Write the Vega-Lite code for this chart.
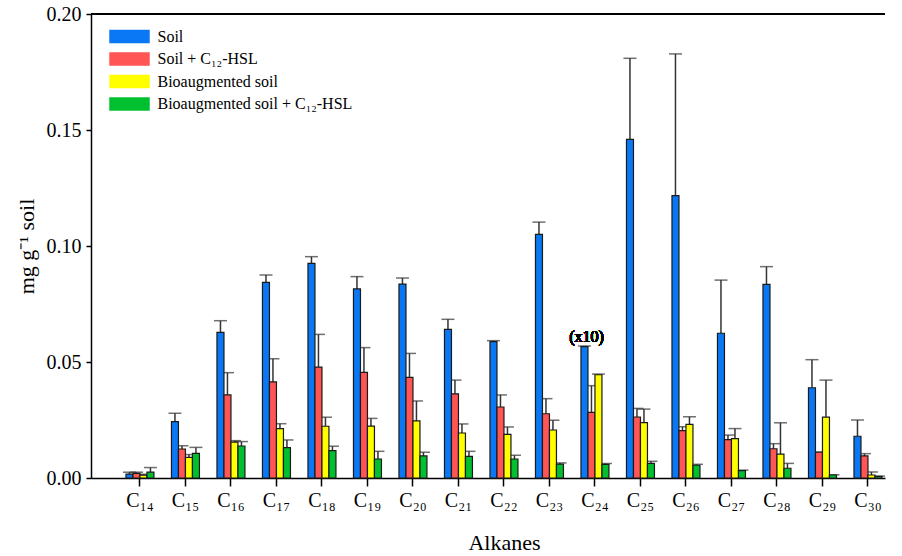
{
  "$schema": "https://vega.github.io/schema/vega-lite/v6.json",
  "width": 794,
  "height": 464,
  "autosize": "none",
  "padding": {"left": 91, "top": 14, "right": 17, "bottom": 78},
  "background": "white",
  "config": {
    "view": {"stroke": null},
    "font": "Liberation Serif",
    "text": {"font": "Liberation Serif", "fontWeight": "normal"},
    "axis": {
      "labelFont": "Liberation Serif",
      "titleFont": "Liberation Serif",
      "labelColor": "black",
      "titleColor": "black",
      "domainColor": "black",
      "tickColor": "black",
      "domainWidth": 1.5,
      "tickWidth": 1.5,
      "grid": false,
      "titleFontWeight": "normal",
      "labelFontWeight": "normal"
    },
    "legend": {
      "labelFont": "Liberation Serif",
      "labelFontSize": 16,
      "labelFontWeight": "normal",
      "labelColor": "black"
    }
  },
  "data": {
    "values": [
      {"alkane": "C₁₄", "series": "Soil", "value": 0.0017, "upper": 0.0025},
      {"alkane": "C₁₄", "series": "Soil + C₁₂-HSL", "value": 0.0020, "upper": 0.0025},
      {"alkane": "C₁₄", "series": "Bioaugmented soil", "value": 0.0012, "upper": 0.0016},
      {"alkane": "C₁₄", "series": "Bioaugmented soil + C₁₂-HSL", "value": 0.0025, "upper": 0.0045},
      {"alkane": "C₁₅", "series": "Soil", "value": 0.0243, "upper": 0.0279},
      {"alkane": "C₁₅", "series": "Soil + C₁₂-HSL", "value": 0.0125, "upper": 0.0139},
      {"alkane": "C₁₅", "series": "Bioaugmented soil", "value": 0.0089, "upper": 0.0101},
      {"alkane": "C₁₅", "series": "Bioaugmented soil + C₁₂-HSL", "value": 0.0106, "upper": 0.0132},
      {"alkane": "C₁₆", "series": "Soil", "value": 0.0628, "upper": 0.0678},
      {"alkane": "C₁₆", "series": "Soil + C₁₂-HSL", "value": 0.0358, "upper": 0.0454},
      {"alkane": "C₁₆", "series": "Bioaugmented soil", "value": 0.0155, "upper": 0.0161},
      {"alkane": "C₁₆", "series": "Bioaugmented soil + C₁₂-HSL", "value": 0.0138, "upper": 0.0157},
      {"alkane": "C₁₇", "series": "Soil", "value": 0.0843, "upper": 0.0875},
      {"alkane": "C₁₇", "series": "Soil + C₁₂-HSL", "value": 0.0414, "upper": 0.0514},
      {"alkane": "C₁₇", "series": "Bioaugmented soil", "value": 0.0213, "upper": 0.0234},
      {"alkane": "C₁₇", "series": "Bioaugmented soil + C₁₂-HSL", "value": 0.0131, "upper": 0.0164},
      {"alkane": "C₁₈", "series": "Soil", "value": 0.0925, "upper": 0.0954},
      {"alkane": "C₁₈", "series": "Soil + C₁₂-HSL", "value": 0.0478, "upper": 0.0619},
      {"alkane": "C₁₈", "series": "Bioaugmented soil", "value": 0.0223, "upper": 0.0262},
      {"alkane": "C₁₈", "series": "Bioaugmented soil + C₁₂-HSL", "value": 0.0118, "upper": 0.0137},
      {"alkane": "C₁₉", "series": "Soil", "value": 0.0815, "upper": 0.0868},
      {"alkane": "C₁₉", "series": "Soil + C₁₂-HSL", "value": 0.0455, "upper": 0.0562},
      {"alkane": "C₁₉", "series": "Bioaugmented soil", "value": 0.0224, "upper": 0.0257},
      {"alkane": "C₁₉", "series": "Bioaugmented soil + C₁₂-HSL", "value": 0.0082, "upper": 0.0115},
      {"alkane": "C₂₀", "series": "Soil", "value": 0.0836, "upper": 0.0862},
      {"alkane": "C₂₀", "series": "Soil + C₁₂-HSL", "value": 0.0434, "upper": 0.0537},
      {"alkane": "C₂₀", "series": "Bioaugmented soil", "value": 0.0246, "upper": 0.0332},
      {"alkane": "C₂₀", "series": "Bioaugmented soil + C₁₂-HSL", "value": 0.0095, "upper": 0.0111},
      {"alkane": "C₂₁", "series": "Soil", "value": 0.0641, "upper": 0.0684},
      {"alkane": "C₂₁", "series": "Soil + C₁₂-HSL", "value": 0.0363, "upper": 0.0422},
      {"alkane": "C₂₁", "series": "Bioaugmented soil", "value": 0.0194, "upper": 0.0233},
      {"alkane": "C₂₁", "series": "Bioaugmented soil + C₁₂-HSL", "value": 0.0093, "upper": 0.0115},
      {"alkane": "C₂₂", "series": "Soil", "value": 0.0588, "upper": 0.0592},
      {"alkane": "C₂₂", "series": "Soil + C₁₂-HSL", "value": 0.0306, "upper": 0.0358},
      {"alkane": "C₂₂", "series": "Bioaugmented soil", "value": 0.0188, "upper": 0.0220},
      {"alkane": "C₂₂", "series": "Bioaugmented soil + C₁₂-HSL", "value": 0.0082, "upper": 0.0098},
      {"alkane": "C₂₃", "series": "Soil", "value": 0.1050, "upper": 0.1103},
      {"alkane": "C₂₃", "series": "Soil + C₁₂-HSL", "value": 0.0277, "upper": 0.0342},
      {"alkane": "C₂₃", "series": "Bioaugmented soil", "value": 0.0207, "upper": 0.0249},
      {"alkane": "C₂₃", "series": "Bioaugmented soil + C₁₂-HSL", "value": 0.0060, "upper": 0.0065},
      {"alkane": "C₂₄", "series": "Soil", "value": 0.0566, "upper": 0.0569},
      {"alkane": "C₂₄", "series": "Soil + C₁₂-HSL", "value": 0.0283, "upper": 0.0398},
      {"alkane": "C₂₄", "series": "Bioaugmented soil", "value": 0.0445, "upper": 0.0448},
      {"alkane": "C₂₄", "series": "Bioaugmented soil + C₁₂-HSL", "value": 0.0059, "upper": 0.0063},
      {"alkane": "C₂₅", "series": "Soil", "value": 0.1460, "upper": 0.1809},
      {"alkane": "C₂₅", "series": "Soil + C₁₂-HSL", "value": 0.0263, "upper": 0.0300},
      {"alkane": "C₂₅", "series": "Bioaugmented soil", "value": 0.0239, "upper": 0.0297},
      {"alkane": "C₂₅", "series": "Bioaugmented soil + C₁₂-HSL", "value": 0.0063, "upper": 0.0072},
      {"alkane": "C₂₆", "series": "Soil", "value": 0.1217, "upper": 0.1828},
      {"alkane": "C₂₆", "series": "Soil + C₁₂-HSL", "value": 0.0204, "upper": 0.0221},
      {"alkane": "C₂₆", "series": "Bioaugmented soil", "value": 0.0231, "upper": 0.0264},
      {"alkane": "C₂₆", "series": "Bioaugmented soil + C₁₂-HSL", "value": 0.0055, "upper": 0.0059},
      {"alkane": "C₂₇", "series": "Soil", "value": 0.0624, "upper": 0.0853},
      {"alkane": "C₂₇", "series": "Soil + C₁₂-HSL", "value": 0.0165, "upper": 0.0185},
      {"alkane": "C₂₇", "series": "Bioaugmented soil", "value": 0.0170, "upper": 0.0213},
      {"alkane": "C₂₇", "series": "Bioaugmented soil + C₁₂-HSL", "value": 0.0032, "upper": 0.0034},
      {"alkane": "C₂₈", "series": "Soil", "value": 0.0835, "upper": 0.0911},
      {"alkane": "C₂₈", "series": "Soil + C₁₂-HSL", "value": 0.0126, "upper": 0.0148},
      {"alkane": "C₂₈", "series": "Bioaugmented soil", "value": 0.0103, "upper": 0.0238},
      {"alkane": "C₂₈", "series": "Bioaugmented soil + C₁₂-HSL", "value": 0.0042, "upper": 0.0063},
      {"alkane": "C₂₉", "series": "Soil", "value": 0.0389, "upper": 0.0510},
      {"alkane": "C₂₉", "series": "Soil + C₁₂-HSL", "value": 0.0111, "upper": 0.0112},
      {"alkane": "C₂₉", "series": "Bioaugmented soil", "value": 0.0262, "upper": 0.0422},
      {"alkane": "C₂₉", "series": "Bioaugmented soil + C₁₂-HSL", "value": 0.0013, "upper": 0.0014},
      {"alkane": "C₃₀", "series": "Soil", "value": 0.0180, "upper": 0.0250},
      {"alkane": "C₃₀", "series": "Soil + C₁₂-HSL", "value": 0.0095, "upper": 0.0105},
      {"alkane": "C₃₀", "series": "Bioaugmented soil", "value": 0.0013, "upper": 0.0026},
      {"alkane": "C₃₀", "series": "Bioaugmented soil + C₁₂-HSL", "value": 0.0007, "upper": 0.0008}
    ]
  },
  "layer": [
    {
      "mark": {"type": "rule", "color": "black", "strokeWidth": 1.5},
      "encoding": {"y": {"datum": 0.2, "type": "quantitative"}}
    },
    {
      "mark": {"type": "rule", "color": "#333333", "strokeWidth": 1.5},
      "encoding": {
        "x": {"field": "alkane", "type": "nominal", "sort": null,
              "scale": {"paddingInner": 0.385, "paddingOuter": 0.4176, "align": 0.92}},
        "xOffset": {"field": "series", "type": "nominal",
                    "sort": ["Soil", "Soil + C₁₂-HSL", "Bioaugmented soil", "Bioaugmented soil + C₁₂-HSL"]},
        "y": {"field": "value", "type": "quantitative"},
        "y2": {"field": "upper"}
      }
    },
    {
      "mark": {"type": "tick", "color": "#333333", "thickness": 1.5, "size": 13, "orient": "horizontal"},
      "encoding": {
        "x": {"field": "alkane", "type": "nominal", "sort": null},
        "xOffset": {"field": "series", "type": "nominal",
                    "sort": ["Soil", "Soil + C₁₂-HSL", "Bioaugmented soil", "Bioaugmented soil + C₁₂-HSL"]},
        "y": {"field": "upper", "type": "quantitative"}
      }
    },
    {
      "mark": {"type": "bar", "stroke": "#1a1a1a", "strokeWidth": 1.2},
      "encoding": {
        "x": {"field": "alkane", "type": "nominal", "sort": null,
              "axis": {"title": "Alkanes", "titleFontSize": 22, "titlePadding": 22, "titleX": 413,
                       "titleFont": "Liberation Serif", "labelFont": "Liberation Serif",
                       "labelFontSize": 20, "labelAngle": 0, "labelAlign": "center", "labelPadding": 14, "tickSize": 8}},
        "xOffset": {"field": "series", "type": "nominal",
                    "sort": ["Soil", "Soil + C₁₂-HSL", "Bioaugmented soil", "Bioaugmented soil + C₁₂-HSL"]},
        "y": {"field": "value", "type": "quantitative",
              "scale": {"domain": [0, 0.2], "nice": false},
              "axis": {"title": "mg g⁻¹ soil", "titleFontSize": 22, "titlePadding": 8,
                       "titleFont": "Liberation Serif", "labelFont": "Liberation Serif",
                       "values": [0, 0.05, 0.1, 0.15, 0.2], "format": ".2f",
                       "labelFontSize": 20, "tickSize": 5, "labelPadding": 5}},
        "color": {"field": "series", "type": "nominal",
                  "scale": {"domain": ["Soil", "Soil + C₁₂-HSL", "Bioaugmented soil", "Bioaugmented soil + C₁₂-HSL"],
                            "range": ["#0A78F5", "#FF5555", "#FFFF00", "#00C030"]},
                  "legend": {"title": null, "orient": "none", "legendX": 30.5, "legendY": 14.5,
                             "padding": 0, "symbolType": "M-3,-1H3V1H-3Z", "symbolSize": 182,
                             "symbolStrokeWidth": 0, "symbolOpacity": 1, "labelOffset": 20, "rowPadding": 6.5,
                             "labelFont": "Liberation Serif", "labelFontSize": 16, "labelFontWeight": "normal", "labelLimit": 400}}
      }
    },
    {
      "mark": {"type": "text", "text": "(x10)", "font": "Liberation Serif", "fontWeight": "normal", "fontSize": 16, "baseline": "bottom", "dy": -1, "dx": 2, "color": "black"},
      "encoding": {
        "x": {"datum": "C₂₄", "type": "nominal"},
        "xOffset": {"datum": "Soil", "type": "nominal"},
        "y": {"datum": 0.0569, "type": "quantitative"}
      }
    }
  ]
}
